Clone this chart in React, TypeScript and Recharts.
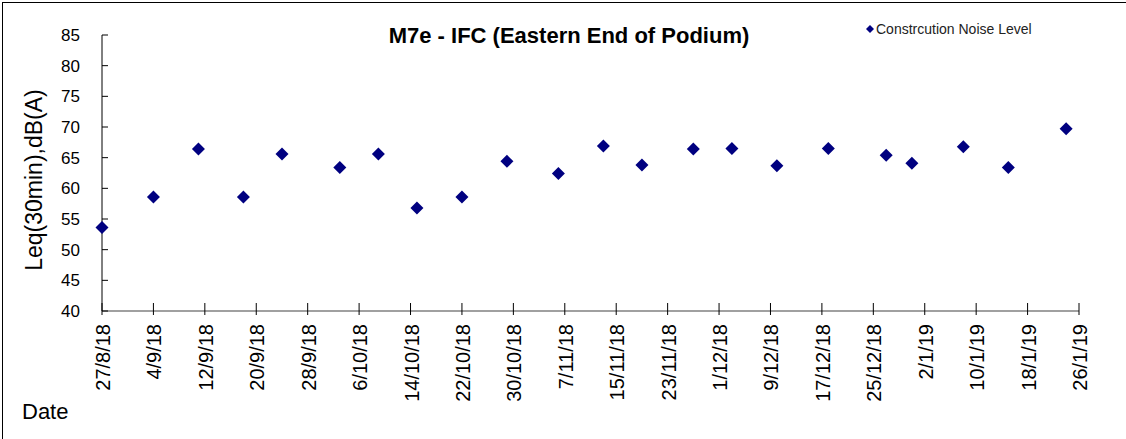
import React from 'react';
import { ScatterChart, Scatter, XAxis, YAxis, Legend } from 'recharts';

const chartTitle = 'M7e - IFC (Eastern End of Podium)';
const seriesName = 'Constrcution Noise Level';
const yAxisTitle = 'Leq(30min),dB(A)';
const xAxisTitle = 'Date';

const sampleDates = [
  '27/8/18', '4/9/18', '11/9/18', '18/9/18', '24/9/18', '3/10/18', '9/10/18',
  '15/10/18', '22/10/18', '29/10/18', '6/11/18', '13/11/18', '19/11/18',
  '27/11/18', '3/12/18', '10/12/18', '18/12/18', '27/12/18', '31/12/18',
  '8/1/19', '15/1/19', '24/1/19',
];
const noiseLevels = [
  53.6, 58.6, 66.4, 58.6, 65.6, 63.4, 65.6,
  56.8, 58.6, 64.4, 62.4, 66.9, 63.8,
  66.4, 66.5, 63.7, 66.5, 65.4, 64.1,
  66.8, 63.4, 69.7,
];
const xTickLabels = [
  '27/8/18', '4/9/18', '12/9/18', '20/9/18', '28/9/18', '6/10/18', '14/10/18',
  '22/10/18', '30/10/18', '7/11/18', '15/11/18', '23/11/18', '1/12/18',
  '9/12/18', '17/12/18', '25/12/18', '2/1/19', '10/1/19', '18/1/19', '26/1/19',
];
const yTicks = [40, 45, 50, 55, 60, 65, 70, 75, 80, 85];

const FONT = '"Liberation Sans", Arial, sans-serif';
const NAVY = '#000080';

const toDay = (s: string) => {
  const [d, m, y] = s.split('/').map(Number);
  return Date.UTC(2000 + y, m - 1, d) / 86400000;
};
const origin = toDay(xTickLabels[0]);
const data = sampleDates.map((d, i) => ({ day: toDay(d) - origin, value: noiseLevels[i] }));
const xTicks = xTickLabels.map((t) => toDay(t) - origin);
const labelByDay = new Map(xTicks.map((d, i) => [d, xTickLabels[i]]));

const XTick = (props: any) => {
  const { x, y, payload } = props;
  const label = labelByDay.get(payload.value) ?? '';
  return (
    <g>
      <line x1={x} x2={x} y1={y - 8} y2={y + 4} stroke="#000" strokeWidth={1} />
      <text
        transform={`translate(${x + 8},${y + 13}) rotate(-90)`}
        textAnchor="end"
        fontSize={20}
        fontFamily={FONT}
        fill="#000"
      >
        {label}
      </text>
    </g>
  );
};

const YTick = (props: any) => {
  const { x, y, payload } = props;
  return (
    <g>
      <line x1={x} x2={x + 6} y1={y} y2={y} stroke="#000" strokeWidth={1} />
      <text x={x - 22} y={y + 6} textAnchor="end" fontSize={17} fontFamily={FONT} fill="#000">
        {payload.value}
      </text>
    </g>
  );
};

const Diamond = (props: any) => {
  const { cx, cy } = props;
  const r = 6.5;
  return (
    <polygon
      points={`${cx},${cy - r} ${cx + r},${cy} ${cx},${cy + r} ${cx - r},${cy}`}
      fill={NAVY}
    />
  );
};

const LegendContent = () => (
  <div style={{ display: 'flex', alignItems: 'center', fontFamily: FONT, fontSize: 14, color: '#222', whiteSpace: 'nowrap' }}>
    <svg width={8} height={8} style={{ marginRight: 2 }}>
      <polygon points="4,0 8,4 4,8 0,4" fill={NAVY} />
    </svg>
    <span>{seriesName}</span>
  </div>
);

export default function App() {
  return (
    <div style={{ position: 'absolute', left: 0, top: 0, width: 1126, height: 439, background: '#fff' }}>
      <div
        style={{
          position: 'absolute', left: 2, top: 2, width: 1124, height: 437,
          borderTop: '1px solid #000', borderLeft: '1px solid #000', boxSizing: 'border-box',
        }}
      />
      <ScatterChart width={1126} height={439} margin={{ top: 35, right: 47, bottom: 0, left: 0 }}>
        <XAxis
          dataKey="day"
          type="number"
          domain={[0, 152]}
          ticks={xTicks}
          interval={0}
          height={128}
          tickSize={0}
          tickMargin={0}
          tickLine={false}
          axisLine={{ stroke: '#808080', strokeWidth: 1.5 }}
          tick={<XTick />}
        />
        <YAxis
          dataKey="value"
          type="number"
          domain={[40, 85]}
          ticks={yTicks}
          interval={0}
          width={102}
          tickSize={0}
          tickMargin={0}
          tickLine={false}
          axisLine={{ stroke: '#000', strokeWidth: 1 }}
          tick={<YTick />}
        />
        <Legend
          layout="horizontal"
          verticalAlign="middle"
          align="center"
          content={<LegendContent />}
          wrapperStyle={{ position: 'absolute', left: 866, top: 21, width: 'auto' }}
        />
        <Scatter
          name={seriesName}
          data={data}
          dataKey="value"
          fill={NAVY}
          shape={<Diamond />}
          isAnimationActive={false}
        />
      </ScatterChart>
      <div
        style={{
          position: 'absolute', left: 569, top: 23, transform: 'translateX(-50%)',
          fontFamily: FONT, fontWeight: 'bold', fontSize: 22, color: '#000', whiteSpace: 'nowrap', lineHeight: '25px',
        }}
      >
        {chartTitle}
      </div>
      <svg style={{ position: 'absolute', left: 0, top: 0, pointerEvents: 'none' }} width={1126} height={439}>
        <text
          transform="translate(42,180) rotate(-90)"
          textAnchor="middle"
          fontSize={23}
          fontFamily={FONT}
          fill="#000"
        >
          {yAxisTitle}
        </text>
        <text x={22} y={419} fontSize={22} fontFamily={FONT} fill="#000">
          {xAxisTitle}
        </text>
      </svg>
    </div>
  );
}
